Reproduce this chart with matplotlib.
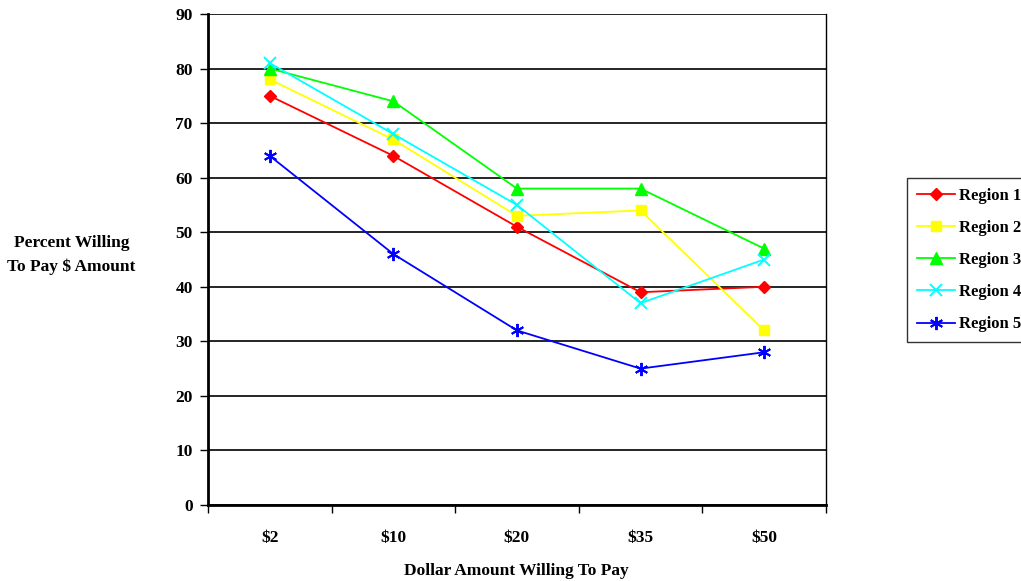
import numpy as np
import matplotlib
matplotlib.use("Agg")
import matplotlib.pyplot as plt

# willingness to pay by region, percent of respondents
amounts = ["$2", "$10", "$20", "$35", "$50"]
region_1 = [75, 64, 51, 39, 40]
region_2 = [78, 67, 53, 54, 32]
region_3 = [80, 74, 58, 58, 47]
region_4 = [81, 68, 55, 37, 45]
region_5 = [64, 46, 32, 25, 28]
y_ticks = [0, 10, 20, 30, 40, 50, 60, 70, 80, 90]

plt.rcParams['font.family'] = ['Liberation Serif', 'DejaVu Serif']
plt.rcParams['font.weight'] = 'bold'

fig = plt.figure(figsize=(10.21, 5.81), dpi=100)
ax = fig.add_axes([0.2037, 0.1308, 0.6052, 0.8451])

x = np.arange(len(amounts))
series = [
    ("Region 1", region_1, "#FF0000", "D", 6.5),
    ("Region 2", region_2, "#FFFF00", "s", 7.5),
    ("Region 3", region_3, "#00FF00", "^", 8),
    ("Region 4", region_4, "#00FFFF", "x", 8.5),
    ("Region 5", region_5, "#0000FF", (6, 2, 0), 9.5),
]
for name, vals, col, mk, ms in series:
    ax.plot(x, vals, color=col, marker=mk, markersize=ms, linewidth=1.3,
            markeredgewidth=1.4 if mk in ("x",) or isinstance(mk, tuple) else 1,
            label=name, clip_on=False, zorder=3)

ax.set_xlim(-0.5, len(amounts) - 0.5)
ax.set_ylim(0, 90)
ax.set_yticks(y_ticks)
ax.yaxis.grid(True, color="black", linewidth=1.2)
ax.set_axisbelow(True)

# category boundaries get the tick marks, labels sit at the centers
ax.set_xticks(np.arange(-0.5, len(amounts)))
ax.set_xticklabels([])
ax.set_xticks(x, minor=True)
ax.set_xticklabels(amounts, minor=True, fontsize=12.5, fontweight='bold')
ax.tick_params(axis='x', which='major', direction='out', length=6, width=1)
ax.tick_params(axis='x', which='minor', length=0, pad=18)
ax.tick_params(axis='y', direction='out', length=6, width=1, labelsize=12.5, pad=5)

ax.spines['left'].set_linewidth(2)
ax.spines['bottom'].set_linewidth(2)
ax.spines['right'].set_linewidth(1)
ax.spines['top'].set_visible(False)

fig.text(0.506, 1 - 571 / 581, "Dollar Amount Willing To Pay", ha="center",
         va="center", fontsize=12.5, fontweight='bold')
fig.text(0.070, 1 - 255 / 581, "Percent Willing\nTo Pay $ Amount", ha="center",
         va="center", fontsize=12.5, fontweight='bold', linespacing=1.6)

leg = fig.legend(loc="upper left", bbox_to_anchor=(0.888, 0.694), frameon=True,
                 fancybox=False, edgecolor="black", fontsize=12,
                 handlelength=2.3, labelspacing=0.97, borderpad=0.6,
                 borderaxespad=0.0, handletextpad=0.25)
leg.get_frame().set_linewidth(1)

fig.savefig("out.png", dpi=100)
